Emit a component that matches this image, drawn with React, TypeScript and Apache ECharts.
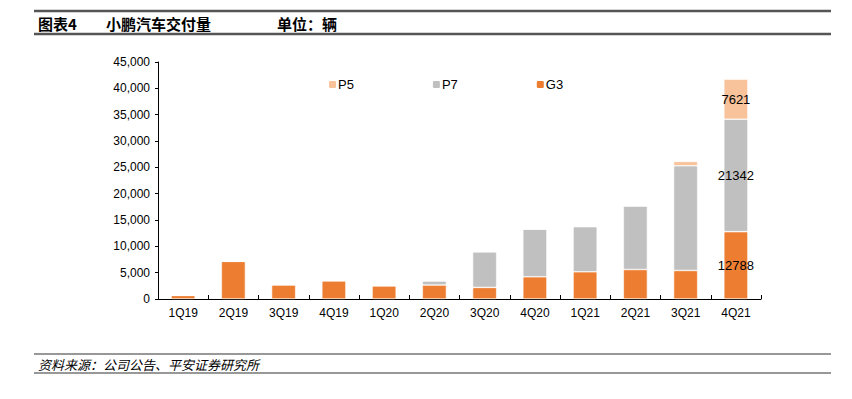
import React, { useEffect, useRef } from "react";
import * as echarts from "echarts";

const categories = ["1Q19", "2Q19", "3Q19", "4Q19", "1Q20", "2Q20", "3Q20", "4Q20", "1Q21", "2Q21", "3Q21", "4Q21"];
const g3 = [680, 7150, 2700, 3470, 2520, 2650, 2200, 4220, 5170, 5600, 5420, 12788];
const p7 = [0, 0, 0, 0, 0, 800, 6760, 9040, 8580, 12070, 19880, 21342];
const p5 = [0, 0, 0, 0, 0, 0, 0, 0, 0, 0, 830, 7621];
const yTicks = { min: 0, max: 45000, interval: 5000 };

const FONT = "'Liberation Sans', Arial, sans-serif";
const CJK = "'Noto Sans CJK SC', sans-serif";

export default function App() {
  const ref = useRef<HTMLDivElement>(null);
  useEffect(() => {
    if (!ref.current) return;
    const chart = echarts.init(ref.current, undefined, { renderer: "svg" });
    const lastOnly = () => ({
      show: true,
      position: "inside",
      color: "#000",
      fontFamily: FONT,
      fontSize: 13,
      formatter: (p: any) => (p.dataIndex === categories.length - 1 ? String(p.value) : ""),
    });
    const mk = (name: string, data: number[], color: string) => ({
      name,
      type: "bar",
      stack: "total",
      data,
      barWidth: "48%",
      itemStyle: { color, borderColor: "#fff", borderWidth: 0.6, borderRadius: 1 },
      label: lastOnly(),
    });
    chart.setOption({
      animation: false,
      backgroundColor: "#fff",
      textStyle: { fontFamily: FONT },
      grid: { left: 158, right: 91, top: 62, bottom: 100, containLabel: false },
      legend: {
        left: 322,
        top: 73,
        itemWidth: 9,
        itemHeight: 9,
        itemGap: 77,
        icon: "roundRect",
        textStyle: { fontFamily: FONT, fontSize: 13, color: "#000", padding: [0, 0, 0, -4] },
        data: ["P5", "P7", "G3"],
      },
      xAxis: {
        type: "category",
        data: categories,
        axisLine: { lineStyle: { color: "#000", width: 1 } },
        axisTick: { show: true, inside: true, length: 4, lineStyle: { color: "#000" } },
        axisLabel: { color: "#000", fontSize: 12, fontFamily: FONT, margin: 8 },
      },
      yAxis: {
        type: "value",
        min: yTicks.min,
        max: yTicks.max,
        interval: yTicks.interval,
        splitLine: { show: false },
        axisLine: { show: true, lineStyle: { color: "#000", width: 1 } },
        axisTick: { show: true, length: 3, lineStyle: { color: "#000" } },
        axisLabel: {
          color: "#000",
          fontSize: 12,
          fontFamily: FONT,
          margin: 8,
          formatter: (v: number) => v.toLocaleString("en-US"),
        },
      },
      series: [mk("G3", g3, "#ED7D31"), mk("P7", p7, "#C0C0C0"), mk("P5", p5, "#F8C29B")],
      graphic: [
        { type: "line", shape: { x1: 34, y1: 11, x2: 831, y2: 11 }, style: { stroke: "#555", lineWidth: 2.5 } },
        { type: "line", shape: { x1: 34, y1: 34, x2: 831, y2: 34 }, style: { stroke: "#555", lineWidth: 2.5 } },
        {
          type: "text",
          x: 38,
          y: 23,
          style: { text: "图表4", font: `bold 15px ${CJK}`, fill: "#000", textVerticalAlign: "middle" },
        },
        {
          type: "text",
          x: 106,
          y: 23,
          style: { text: "小鹏汽车交付量", font: `bold 15px ${CJK}`, fill: "#000", textVerticalAlign: "middle" },
        },
        {
          type: "text",
          x: 277,
          y: 23,
          style: { text: "单位：辆", font: `bold 15px ${CJK}`, fill: "#000", textVerticalAlign: "middle" },
        },
        { type: "line", shape: { x1: 34, y1: 354, x2: 831, y2: 354 }, style: { stroke: "#333", lineWidth: 1.2 } },
        { type: "line", shape: { x1: 34, y1: 373, x2: 831, y2: 373 }, style: { stroke: "#333", lineWidth: 1.2 } },
        {
          type: "text",
          x: 38,
          y: 364,
          style: {
            text: "资料来源：公司公告、平安证券研究所",
            font: `italic 13px ${CJK}`,
            fill: "#000",
            textVerticalAlign: "middle",
          },
        },
      ],
    });
    return () => chart.dispose();
  }, []);
  return <div ref={ref} style={{ width: 852, height: 399, position: "absolute", left: 0, top: 0 }} />;
}
